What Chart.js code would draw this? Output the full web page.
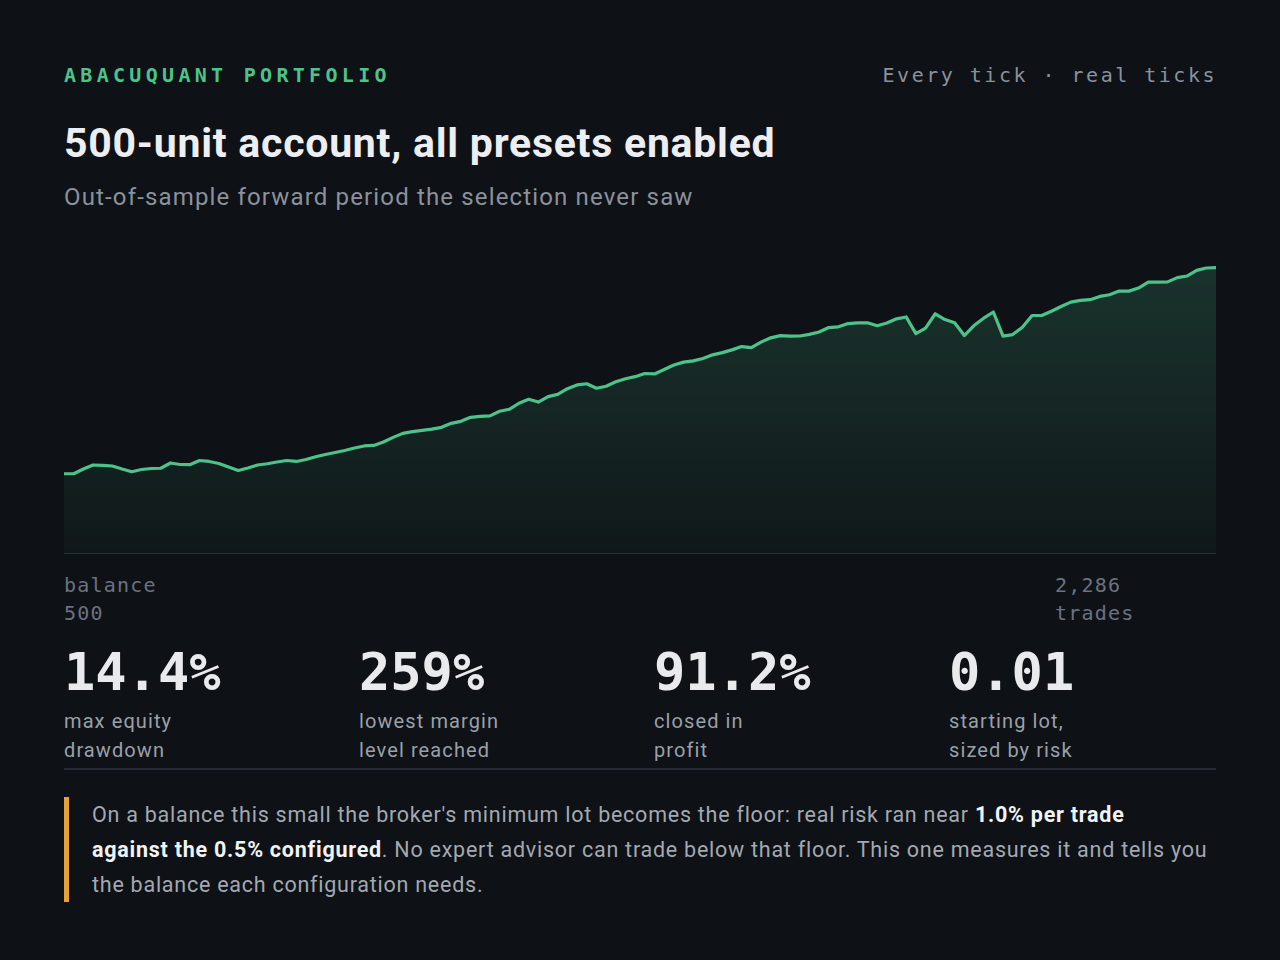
<!DOCTYPE html>
<html>
<head>
<meta charset="utf-8">
<script src="https://cdn.jsdelivr.net/npm/chart.js@4/dist/chart.umd.min.js"></script>
<style>
  html, body { margin: 0; padding: 0; }
  body { width: 1280px; height: 960px; background: #0e1116; position: relative; overflow: hidden; font-family: Roboto, "Noto Sans", sans-serif; }
  .mono { font-family: "DejaVu Sans Mono", "Liberation Mono", monospace; }
  .brand { position: absolute; left: 64px; top: 63px; font-size: 20px; letter-spacing: 4.3px; color: #4cc38a; font-weight: 600; }
  .meta { position: absolute; right: 63px; top: 63px; font-size: 20px; letter-spacing: 2.5px; color: #8b929c; }
  h1 { position: absolute; left: 64px; top: 119px; margin: 0; font-size: 41px; font-weight: 700; color: #eceef1; letter-spacing: 0.75px; }
  .sub { position: absolute; left: 64px; top: 183px; font-size: 24px; color: #8b929c; letter-spacing: 1.15px; }
  #wrap { position: absolute; left: 64px; top: 255px; width: 1152px; height: 299px; }
  .foot { position: absolute; top: 571px; font-size: 20px; letter-spacing: 1.2px; line-height: 28px; color: #6b7280; }
  .stats { position: absolute; left: 64px; top: 641px; width: 1152px; display: grid; grid-template-columns: repeat(4, 1fr); column-gap: 28px; }
  .num { font-size: 52px; font-weight: 600; color: #e8eaee; line-height: 62px; }
  .lbl { font-size: 20px; color: #9aa0a8; line-height: 29px; margin-top: 4px; letter-spacing: 1.1px; }
  .rule { position: absolute; left: 64px; top: 768px; width: 1152px; height: 2px; background: #262b33; }
  .note { position: absolute; left: 64px; top: 797px; width: 1140px; border-left: 5px solid #e5a13a; padding-left: 23px; font-size: 21.5px; line-height: 35px; color: #a3a9b1; letter-spacing: 0.75px; white-space: nowrap; }
  .note b { color: #f2f3f5; font-weight: 700; }
</style>
</head>
<body>
<div class="brand mono">ABACUQUANT PORTFOLIO</div>
<div class="meta mono">Every tick · real ticks</div>
<h1>500-unit account, all presets enabled</h1>
<div class="sub">Out-of-sample forward period the selection never saw</div>
<div id="wrap"><canvas id="equity"></canvas></div>
<div class="foot mono" style="left:64px">balance<br>500</div>
<div class="foot mono" style="left:1055px">2,286<br>trades</div>
<div class="stats">
  <div><div class="num mono">14.4%</div><div class="lbl">max equity<br>drawdown</div></div>
  <div><div class="num mono">259%</div><div class="lbl">lowest margin<br>level reached</div></div>
  <div><div class="num mono">91.2%</div><div class="lbl">closed in<br>profit</div></div>
  <div><div class="num mono">0.01</div><div class="lbl">starting lot,<br>sized by risk</div></div>
</div>
<div class="rule"></div>
<div class="note">On a balance this small the broker's minimum lot becomes the floor: real risk ran near <b>1.0% per trade<br>against the 0.5% configured</b>. No expert advisor can trade below that floor. This one measures it and tells you<br>the balance each configuration needs.</div>

<script>
// balance curve (120 samples)
const balance = [
  500, 500, 505.9, 510.9, 510.3, 509.6, 505.9, 502.5, 505.3, 506.5,
  506.8, 513.4, 511.5, 511.3, 516.5, 515.3, 512.8, 508.4, 504, 507.1,
  510.9, 512.4, 514.6, 516.5, 515.3, 517.8, 521.1, 524, 526.5, 529,
  532.1, 534.6, 535.3, 539.6, 545.3, 550.3, 552.5, 554, 555.5, 557.8,
  562.8, 565.3, 570.3, 571.5, 572.1, 577.8, 580.3, 587.8, 592.8, 589.3,
  596.1, 598.8, 605.9, 610.6, 612.1, 606.5, 609, 614.6, 618.4, 620.9,
  624.9, 624.3, 629.9, 635.5, 639, 640.6, 643.6, 648.1, 650.9, 654.3,
  658.4, 657.1, 664, 669.3, 672.1, 671.5, 671.6, 673.6, 676.5, 682.1,
  683, 687.1, 688, 688, 684.3, 687.8, 693, 695.3, 674.6, 681.3,
  699.3, 692.1, 688, 672.1, 684.6, 693.8, 701.5, 671.5, 673.4, 682.5,
  697.1, 697.1, 702.5, 708.4, 713.8, 715.9, 716.8, 720.9, 723, 727.5,
  727.5, 731.3, 738.8, 738.8, 739, 744.3, 746.3, 753.4, 756.3, 756.8
];
const samples = balance.map((_, i) => i);
const yMin = 400;
const yMax = 772.5;

const lineColor = '#4cc38a';

new Chart(document.getElementById('equity').getContext('2d'), {
  type: 'line',
  data: {
    labels: samples,
    datasets: [{
      data: balance,
      borderColor: lineColor,
      borderWidth: 3.2,
      borderJoinStyle: 'round',
      borderCapStyle: 'round',
      pointRadius: 0,
      tension: 0,
      fill: 'start',
      backgroundColor: function (ctx) {
        const area = ctx.chart.chartArea;
        if (!area) return 'rgba(76,195,138,0.12)';
        const g = ctx.chart.ctx.createLinearGradient(0, area.top, 0, area.bottom);
        g.addColorStop(0, 'rgba(76,195,138,0.2)');
        g.addColorStop(1, 'rgba(76,195,138,0.04)');
        return g;
      }
    }]
  },
  options: {
    responsive: true,
    maintainAspectRatio: false,
    animation: false,
    layout: { padding: 0 },
    plugins: { legend: { display: false }, tooltip: { enabled: false } },
    scales: {
      x: {
        display: true,
        grid: { display: false, drawTicks: false },
        ticks: { display: false },
        border: { color: '#262b33', width: 2 }
      },
      y: { display: false, min: yMin, max: yMax }
    }
  }
});
</script>
</body>
</html>
